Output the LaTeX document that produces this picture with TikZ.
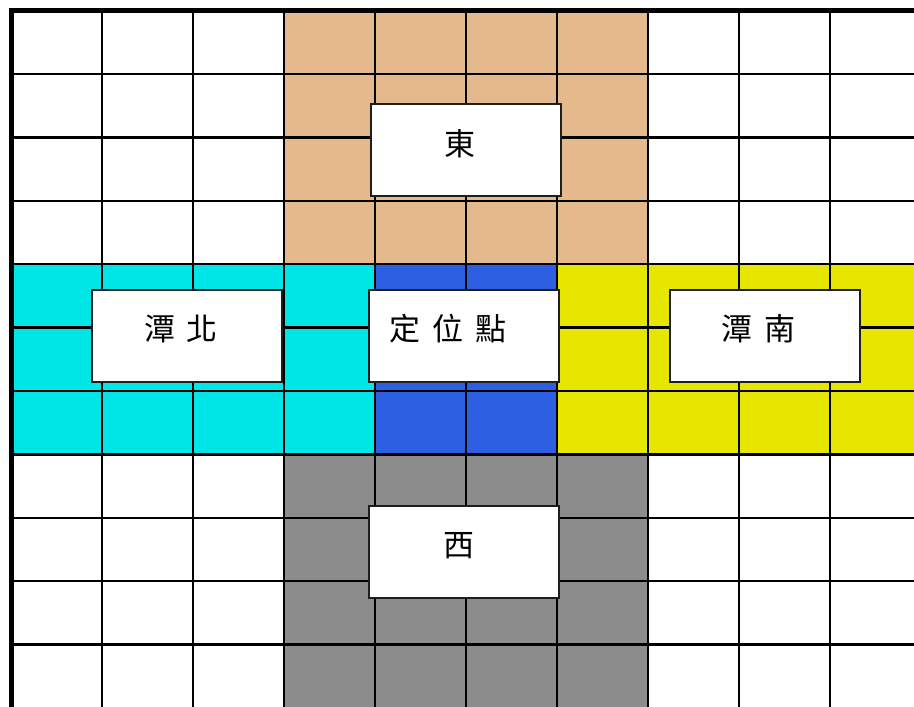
\documentclass[tikz,border=0pt]{standalone}
\usepackage{fontspec}
\newfontfamily\cjk{Noto Sans CJK TC}
\definecolor{peach}{HTML}{E4B98B}
\definecolor{cyanf}{HTML}{00E6E6}
\definecolor{bluef}{HTML}{2D5FE3}
\definecolor{yellowf}{HTML}{E6E600}
\definecolor{grayf}{HTML}{8C8C8C}
\definecolor{boxline}{HTML}{1E1E1E}
\tikzset{
  gridline/.style={draw=black, line width=2.4pt},
  border/.style={draw=black, line width=5pt},
  box/.style={draw=boxline, fill=white, line width=2pt, minimum width=190pt, minimum height=92pt, inner sep=0pt},
  lbl/.style={inner sep=0pt, font=\cjk\fontsize{31}{36}\selectfont, text=black},
}
\newcommand{\gap}{\hspace{12pt}}
\begin{document}
\begin{tikzpicture}[x=1pt,y=-1pt]
\useasboundingbox (0,0) rectangle (914,707);
\fill[white] (0,0) rectangle (914,707);
% coloured regions
\fill[peach] (284,10.5) rectangle (648,264.1);
\fill[cyanf] (11,264.1) rectangle (375,454.3);
\fill[bluef] (375,264.1) rectangle (557,454.3);
\fill[yellowf] (557,264.1) rectangle (914,454.3);
\fill[grayf] (284,454.3) rectangle (648,707);
% grid
\foreach \i in {1,...,9} \draw[gridline] ({11+91*\i},10.5) -- ({11+91*\i},707);
\foreach \j in {1,...,10} \draw[gridline] (11,{10.5+63.4*\j}) -- (914,{10.5+63.4*\j});
% outer border
\draw[border] (11.5,707) -- (11.5,10.5) -- (914,10.5);
% boxes
\node[box] (east) at (466,150) {};
\node[lbl] (eastT) at (460.3,143.8) {東};
\node[box] (north) at (187.3,335.7) {};
\node[lbl] (northT) at (181,328.5) {潭\gap 北};
\node[box] (origin) at (464.3,335.5) {};
\node[lbl] (originT) at (448.3,329) {定\gap 位\gap 點};
\node[box] (south) at (764.7,336) {};
\node[lbl] (southT) at (758.3,329) {潭\gap 南};
\node[box] (west) at (464,552) {};
\node[lbl] (westT) at (459,545.8) {西};
\end{tikzpicture}
\end{document}
